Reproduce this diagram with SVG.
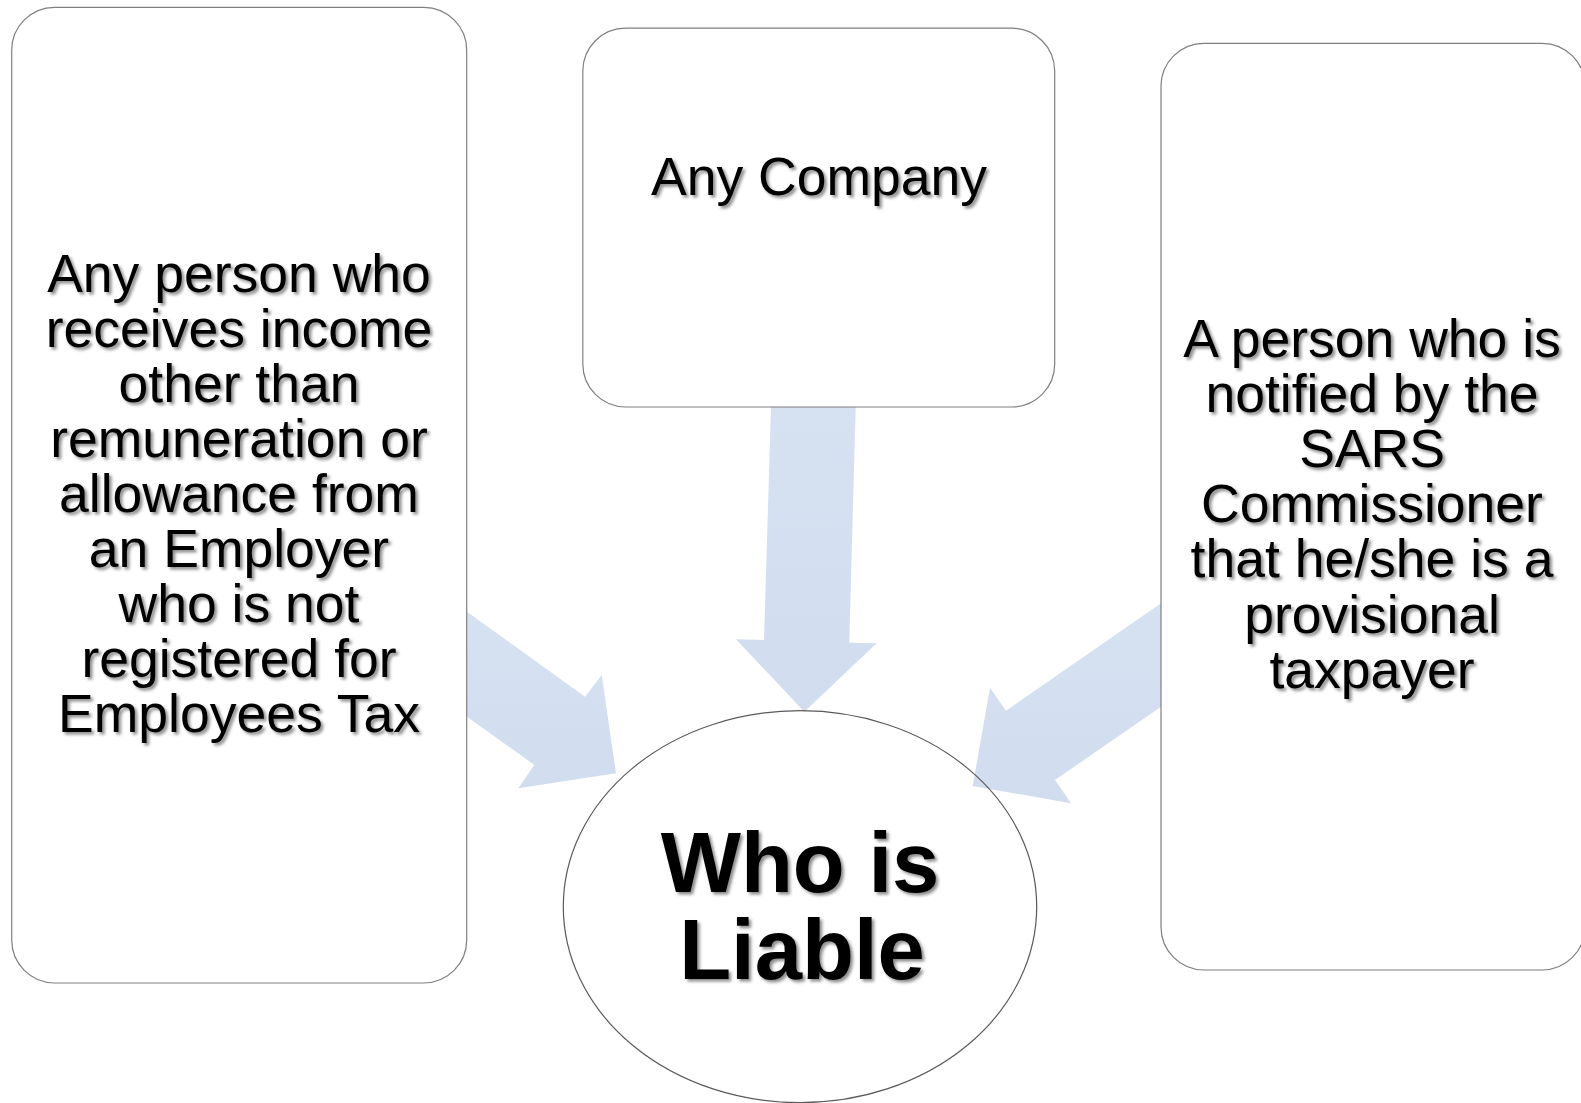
<svg xmlns="http://www.w3.org/2000/svg" width="1581" height="1103" viewBox="0 0 1581 1103">
  <defs>
    <filter id="txtShadow" x="-10%" y="-10%" width="130%" height="140%">
      <feDropShadow dx="2.5" dy="2.5" stdDeviation="1.4" flood-color="#000" flood-opacity="0.45"/>
    </filter>
    <linearGradient id="arrowFill" x1="0" y1="0" x2="0" y2="1">
      <stop offset="0" stop-color="#D6E1F1"/>
      <stop offset="1" stop-color="#D1DDEF"/>
    </linearGradient>
  </defs>
  <style>
    .box { fill: #FFFFFF; stroke: #7F7F7F; stroke-width: 1.2; }
    .hub { fill: none; stroke: #5A5A5A; stroke-width: 1.2; }
    .arrow { fill: url(#arrowFill); stroke: none; }
    .lbl { font-family: "Liberation Sans", Arial, sans-serif; font-size: 53.5px; fill: #000; text-anchor: middle; filter: url(#txtShadow); }
    .hubLbl { font-family: "Liberation Sans", Arial, sans-serif; font-size: 85px; font-weight: bold; fill: #000; text-anchor: middle; filter: url(#txtShadow); }
  </style>

  <rect x="0" y="0" width="1581" height="1103" fill="#FFFFFF"/>

  <!-- block arrows pointing into the central ellipse -->
  <g id="connectors">
    <polygon class="arrow" points="467,611.7 585,696.7 601.7,675 616,773.3 518.3,788.3 534.3,765 467,716.7"/>
    <polygon class="arrow" points="771,407 764,640 736,639.3 804.3,711.7 876.7,643.3 849.3,642.7 855.7,407"/>
    <polygon class="arrow" points="1161,603.3 1006,710.7 990,687.7 972.7,786 1071,803.3 1055,780 1161,706.7"/>
  </g>

  <g id="node-person-income">
    <rect class="box" x="11.7" y="7.3" width="455" height="975.7" rx="43" ry="43"/>
    <text class="lbl" x="239" y="291.7">Any person who</text>
    <text class="lbl" x="239" y="346.7">receives income</text>
    <text class="lbl" x="239" y="401.7">other than</text>
    <text class="lbl" x="239" y="456.7">remuneration or</text>
    <text class="lbl" x="239" y="511.7">allowance from</text>
    <text class="lbl" x="239" y="566.7">an Employer</text>
    <text class="lbl" x="239" y="621.7">who is not</text>
    <text class="lbl" x="239" y="676.7">registered for</text>
    <text class="lbl" x="239" y="731.7">Employees Tax</text>
  </g>

  <g id="node-company">
    <rect class="box" x="582.8" y="28.2" width="471.9" height="378.8" rx="43" ry="43"/>
    <text class="lbl" x="819" y="195">Any Company</text>
  </g>

  <g id="node-provisional">
    <rect class="box" x="1161" y="43.3" width="424" height="926.7" rx="43" ry="43"/>
    <text class="lbl" x="1372" y="357">A person who is</text>
    <text class="lbl" x="1372" y="412.1">notified by the</text>
    <text class="lbl" x="1372" y="467.2">SARS</text>
    <text class="lbl" x="1372" y="522.3">Commissioner</text>
    <text class="lbl" x="1372" y="577.4">that he/she is a</text>
    <text class="lbl" x="1372" y="632.5">provisional</text>
    <text class="lbl" x="1372" y="687.6">taxpayer</text>
  </g>

  <g id="node-who-is-liable">
    <ellipse class="hub" cx="800" cy="906.7" rx="236.7" ry="196"/>
    <text class="hubLbl" x="800" y="891.7">Who is</text>
    <text class="hubLbl" x="802" y="979.3">Liable</text>
  </g>
</svg>
